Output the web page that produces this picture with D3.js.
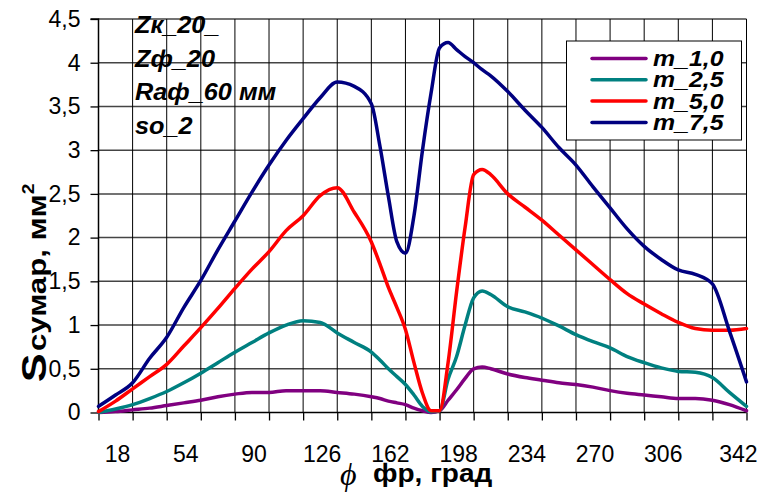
<!DOCTYPE html>
<html>
<head>
<meta charset="utf-8">
<script src="https://cdn.jsdelivr.net/npm/d3@7"></script>
<style>
  html, body { margin: 0; padding: 0; background: #fff; }
  svg { display: block; font-family: Arial, "Liberation Sans", sans-serif; }
</style>
</head>
<body>
<svg id="chart" width="763" height="494"></svg>
<script>
// ---------------- data ----------------
const phi = [0, 9, 18, 27, 36, 45, 54, 63, 72, 81, 90, 99, 108, 117, 126, 135, 144, 148.5, 153, 157.5, 162, 166.5, 171, 175.5, 180, 184.5, 189, 193.5, 198, 202.5, 207, 216, 225, 234, 243, 252, 261, 270, 279, 288, 297, 306, 315, 324, 333, 342];

const m_1_0 = [0.00, 0.01, 0.03, 0.05, 0.08, 0.11, 0.14, 0.18, 0.21, 0.23, 0.23, 0.25, 0.25, 0.25, 0.23, 0.21, 0.18, 0.16, 0.13, 0.11, 0.09, 0.05, 0.02, 0.00, 0.02, 0.14, 0.26, 0.39, 0.50, 0.52, 0.50, 0.44, 0.40, 0.37, 0.34, 0.32, 0.29, 0.25, 0.22, 0.20, 0.18, 0.16, 0.16, 0.14, 0.09, 0.02];

const m_2_5 = [0.00, 0.04, 0.09, 0.16, 0.24, 0.34, 0.45, 0.57, 0.69, 0.80, 0.91, 1.00, 1.05, 1.03, 0.91, 0.80, 0.69, 0.60, 0.50, 0.41, 0.32, 0.20, 0.07, 0.01, 0.02, 0.38, 0.64, 1.00, 1.31, 1.39, 1.35, 1.21, 1.15, 1.08, 0.99, 0.89, 0.81, 0.74, 0.64, 0.57, 0.51, 0.47, 0.46, 0.40, 0.23, 0.07];

const m_5_0 = [0.01, 0.13, 0.27, 0.41, 0.55, 0.76, 0.97, 1.19, 1.42, 1.64, 1.84, 2.08, 2.25, 2.48, 2.57, 2.29, 1.95, 1.70, 1.43, 1.20, 0.95, 0.57, 0.22, 0.02, 0.02, 0.57, 1.38, 2.12, 2.72, 2.78, 2.72, 2.50, 2.35, 2.20, 2.03, 1.86, 1.69, 1.52, 1.36, 1.24, 1.13, 1.03, 0.96, 0.94, 0.94, 0.96];

const m_7_5 = [0.07, 0.20, 0.34, 0.62, 0.86, 1.20, 1.51, 1.86, 2.19, 2.52, 2.83, 3.11, 3.36, 3.60, 3.78, 3.73, 3.53, 3.05, 2.47, 1.95, 1.82, 2.25, 3.00, 3.65, 4.17, 4.23, 4.15, 4.07, 4.00, 3.92, 3.85, 3.67, 3.46, 3.26, 3.03, 2.83, 2.58, 2.34, 2.10, 1.90, 1.75, 1.63, 1.58, 1.47, 0.93, 0.35];

const seriesNames = ["m_1,0", "m_2,5", "m_5,0", "m_7,5"];
const seriesColors = ["#800080", "#008080", "#ff0000", "#000080"];
const seriesValues = [m_1_0, m_2_5, m_5_0, m_7_5];

const xTickValues = d3.range(0, 343, 18);               // tick marks / gridlines
const xLabelValues = [18, 54, 90, 126, 162, 198, 234, 270, 306, 342];
const yTickValues = [0, 0.5, 1, 1.5, 2, 2.5, 3, 3.5, 4, 4.5];

const notes = ["Zк_20_", "Zф_20", "Raф_60 мм", "so_2"];

// ---------------- layout ----------------
const svg = d3.select("#chart");
const L = 98.5, R = 746.5, T = 19, B = 412.5;

const x = d3.scaleLinear().domain([0, 342]).range([L, R]);
const y = d3.scaleLinear().domain([0, 4.5]).range([B, T]);

const fmt = v => String(v).replace(".", ",");

// horizontal gridlines
svg.append("g").selectAll("line").data(yTickValues.filter(v => v > 0)).join("line")
  .attr("x1", L).attr("x2", R).attr("y1", d => y(d)).attr("y2", d => y(d))
  .attr("stroke", "#444").attr("stroke-width", 1.5);

// vertical gridlines
svg.append("g").selectAll("line").data(xTickValues.filter(v => v > 0)).join("line")
  .attr("x1", d => x(d)).attr("x2", d => x(d)).attr("y1", T).attr("y2", B)
  .attr("stroke", "#000").attr("stroke-width", 1);

// y axis
const yAxis = d3.axisLeft(y).tickValues(yTickValues).tickSize(8).tickPadding(10).tickFormat(fmt);
const gy = svg.append("g").attr("transform", `translate(${L},0)`).call(yAxis);
gy.select(".domain").attr("stroke", "#000").attr("stroke-width", 1.5).attr("d", `M-8,${T}H0V${B}`);
gy.selectAll(".tick line").attr("stroke", "#000").attr("stroke-width", 1.3);
gy.selectAll(".tick text").attr("font-size", 23).attr("fill", "#000")
  .attr("font-family", "Arial, 'Liberation Sans', sans-serif");

// x axis (ticks only, labels centred between tick marks)
const xAxis = d3.axisBottom(x).tickValues(xTickValues).tickSize(8).tickFormat("");
const gx = svg.append("g").attr("transform", `translate(0,${B})`).call(xAxis);
gx.select(".domain").attr("stroke", "#000").attr("stroke-width", 1.5).attr("d", `M${L},0H${R}`);
gx.selectAll(".tick line").attr("stroke", "#000").attr("stroke-width", 1.3);

const halfStep = 9;
svg.append("g").selectAll("text").data(xLabelValues).join("text")
  .attr("x", (d, i) => x(d - halfStep) + 2 + (i === xLabelValues.length - 1 ? 7 : 0))
  .attr("y", 462)
  .attr("text-anchor", "middle")
  .attr("font-size", 23)
  .text(d => d);

// series lines
const line = d3.line()
  .x((d, i) => x(phi[i]))
  .y(d => y(d))
  .curve(d3.curveMonotoneX);

svg.append("g").selectAll("path").data(seriesValues).join("path")
  .attr("d", d => line(d))
  .attr("fill", "none")
  .attr("stroke", (d, i) => seriesColors[i])
  .attr("stroke-width", 3.5)
  .attr("stroke-linejoin", "round")
  .attr("stroke-linecap", "round");

// annotation text (slightly widened like the original)
svg.append("g").selectAll("text").data(notes).join("text")
  .attr("transform", (d, i) => `translate(135,${33 + i * 33.7}) scale(1.1,1)`)
  .attr("font-size", 23)
  .attr("font-weight", "bold")
  .attr("font-style", "italic")
  .text(d => d);

// legend
const lg = svg.append("g");
lg.append("rect").attr("x", 566.5).attr("y", 41).attr("width", 175).attr("height", 99)
  .attr("fill", "#fff").attr("stroke", "#000").attr("stroke-width", 1);
seriesNames.forEach((n, i) => {
  const yy = 58.5 + i * 21.3;
  lg.append("line").attr("x1", 592).attr("x2", 646).attr("y1", yy).attr("y2", yy)
    .attr("stroke", seriesColors[i]).attr("stroke-width", 3.5).attr("stroke-linecap", "round");
  lg.append("text").attr("transform", `translate(653,${yy + 7.5}) scale(1.13,1)`)
    .attr("font-size", 22).attr("font-weight", "bold").attr("font-style", "italic")
    .text(n);
});

// y axis title
const yt = svg.append("text").attr("transform", "translate(46,283) rotate(-90) scale(1.2,1)")
  .attr("text-anchor", "middle").attr("font-weight", "bold");
yt.append("tspan").attr("font-size", 36).text("S");
yt.append("tspan").attr("font-size", 26).attr("dx", 2).text("сумар, мм");
yt.append("tspan").attr("font-size", 16).attr("dy", -12).text("2");

// x axis title
const xt = svg.append("g");
xt.append("text").attr("x", 340).attr("y", 485)
  .attr("font-family", "'Liberation Serif', 'DejaVu Serif', serif")
  .attr("font-style", "italic").attr("font-size", 32).text("ϕ");
xt.append("text").attr("transform", "translate(373,482) scale(1.12,1)")
  .attr("font-weight", "bold").attr("font-size", 25).text("фр, град");
</script>
</body>
</html>
